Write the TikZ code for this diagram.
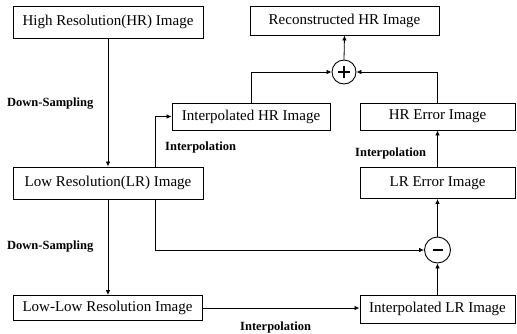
\documentclass[tikz,border=0pt]{standalone}
\usepackage{fontspec}
\setmainfont{Liberation Serif}
\usetikzlibrary{arrows.meta}
\begin{document}
\begin{tikzpicture}[x=1pt,y=-1pt,
 box/.style={draw, line width=0.9pt, rectangle, inner sep=0pt, font=\fontsize{15}{18}\selectfont},
 lab/.style={font=\bfseries\fontsize{12.5}{15}\selectfont, inner sep=0pt, anchor=west},
 op/.style={draw, circle, line width=0.9pt, inner sep=0pt},
 arr/.style={line width=0.8pt, -{Latex[length=5pt,width=4.5pt]}},
 sign/.style={line width=2.6pt}]
\useasboundingbox (0,0) rectangle (517,333);
\node[box, minimum width=190pt, minimum height=32pt] (hr) at (108,22) {High Resolution(HR) Image};
\node[box, minimum width=189pt, minimum height=29pt] (rec) at (344.5,20.5) {Reconstructed HR Image};
\node[box, minimum width=158pt, minimum height=27pt] (ihr) at (251,116.5) {Interpolated HR Image};
\node[box, minimum width=155pt, minimum height=27pt] (hre) at (437.5,116.5) {HR Error Image};
\node[box, minimum width=190pt, minimum height=32pt] (lr) at (108,183) {Low Resolution(LR) Image};
\node[box, minimum width=155pt, minimum height=31pt] (lre) at (437.5,183) {LR Error Image};
\node[box, minimum width=189pt, minimum height=25pt] (ll) at (107.5,308) {Low-Low Resolution Image};
\node[box, minimum width=155pt, minimum height=28pt] (ilr) at (437.5,309) {Interpolated LR Image};
\node[op, minimum size=24pt] (plus) at (344,72) {};
\node[op, minimum size=26pt] (minus) at (437.5,250) {};
\draw[sign] ([xshift=-6pt]plus.center) -- ([xshift=6pt]plus.center);
\draw[sign] ([yshift=-6pt]plus.center) -- ([yshift=6pt]plus.center);
\draw[line width=2.8pt] ([xshift=-5pt]minus.center) -- ([xshift=5pt]minus.center);

\draw[arr] (hr.south) -- (lr.north);
\draw[arr] (lr.south) -- (lr.south |- ll.north);
\draw[arr] ([xshift=47pt]lr.north) |- (ihr.west);
\draw[arr] ([xshift=47pt]lr.south) |- (minus.west);
\draw[arr] (ll.east) -- (ll.east -| ilr.west);
\draw[arr] (ilr.north) -- (minus.south);
\draw[arr] (minus.north) -- (lre.south);
\draw[arr] (lre.north) -- (hre.south);
\draw[arr] (hre.north) |- (plus.east);
\draw[arr] (ihr.north) |- (plus.west);
\draw[arr] (plus.north) -- (rec.south);

\node[lab] (ds1) at (7,104) {Down-Sampling};
\node[lab] (ds2) at (7,247) {Down-Sampling};
\node[lab] (ip1) at (165,147) {Interpolation};
\node[lab] (ip2) at (355,153) {Interpolation};
\node[lab] (ip3) at (240,327) {Interpolation};
\end{tikzpicture}
\end{document}
